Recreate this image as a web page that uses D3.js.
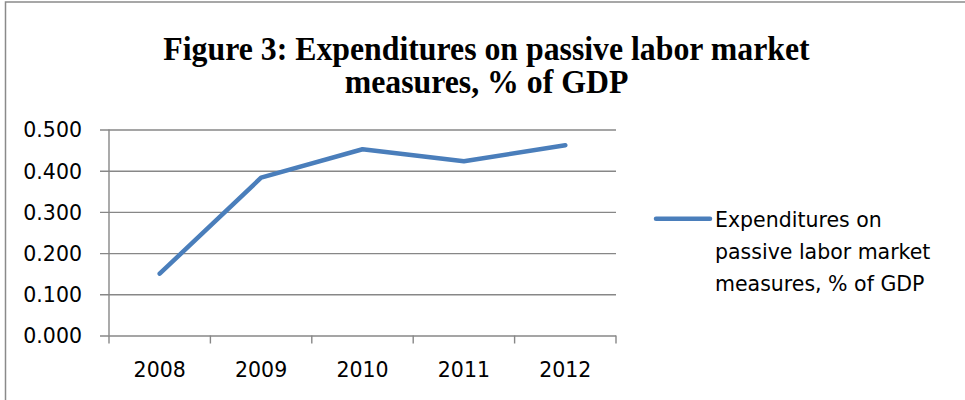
<!DOCTYPE html>
<html>
<head>
<meta charset="utf-8">
<script src="https://cdn.jsdelivr.net/npm/d3@7"></script>
<style>
  html, body { margin: 0; padding: 0; background: #fff; }
  svg { display: block; }
</style>
</head>
<body>
<svg id="chart" width="965" height="400"></svg>
<script>
const categories = ["2008", "2009", "2010", "2011", "2012"];
const values = [0.150, 0.383, 0.452, 0.423, 0.462];
const yTicks = [0, 0.1, 0.2, 0.3, 0.4, 0.5];
const titleLines = ["Figure 3: Expenditures on passive labor market", "measures, % of GDP"];
const legendLines = ["Expenditures on", "passive labor market", "measures, % of GDP"];

const svg = d3.select("#chart");
const gridColor = "#878787";
const lineColor = "#4A7EBB";
const labelFont = "'DejaVu Sans', sans-serif";

// outer border (top & left visible)
svg.append("rect")
  .attr("x", 5.5).attr("y", 2)
  .attr("width", 1000).attr("height", 450)
  .attr("fill", "none").attr("stroke", "#8a8a8a").attr("stroke-width", 1.5);

// title
titleLines.forEach((t, i) => {
  svg.append("g")
    .attr("transform", `translate(486.5,${59.5 + i * 33.5}) scale(1,1.08)`)
    .append("text")
    .attr("text-anchor", "middle")
    .attr("font-family", "'Liberation Serif', 'Times New Roman', serif")
    .attr("font-weight", "bold")
    .attr("font-size", 31.8)
    .attr("fill", "#000")
    .text(t);
});

const plotLeft = 109, plotRight = 616, plotTop = 129.5, plotBottom = 335.5;
const x = d3.scaleBand().domain(categories).range([plotLeft, plotRight]).padding(0);
const y = d3.scaleLinear().domain([0, 0.5]).range([plotBottom, plotTop]);

// gridlines + y tick marks
const grid = svg.append("g")
  .attr("transform", `translate(${plotRight},0)`)
  .call(d3.axisLeft(y).tickValues(yTicks).tickSize(plotRight - plotLeft + 9).tickFormat(""));
grid.select(".domain").remove();
grid.selectAll(".tick line").attr("stroke", gridColor).attr("stroke-width", 1.4);

// y axis line
svg.append("line")
  .attr("x1", plotLeft).attr("x2", plotLeft)
  .attr("y1", plotTop).attr("y2", plotBottom)
  .attr("stroke", gridColor).attr("stroke-width", 1.4);

// y labels
const yLab = svg.append("g")
  .attr("transform", `translate(${plotLeft},0)`)
  .call(d3.axisLeft(y).tickValues(yTicks).tickSize(0).tickPadding(27).tickFormat(d3.format(".3f")));
yLab.select(".domain").remove();
yLab.selectAll("text")
  .attr("font-family", labelFont).attr("font-size", 20.5).attr("fill", "#000")
  .attr("dy", "0.36em");

// x tick marks at category boundaries
const bounds = categories.map(c => x(c)).concat([x.range()[1]]);
svg.append("g").selectAll("line")
  .data(bounds)
  .join("line")
  .attr("x1", d => d).attr("x2", d => d)
  .attr("y1", plotBottom).attr("y2", plotBottom + 8)
  .attr("stroke", gridColor).attr("stroke-width", 1.4);

// x labels
const xLab = svg.append("g")
  .attr("transform", `translate(0,${plotBottom})`)
  .call(d3.axisBottom(x).tickSize(0).tickPadding(0));
xLab.select(".domain").remove();
xLab.selectAll("text")
  .attr("font-family", labelFont).attr("font-size", 20.5).attr("fill", "#000")
  .attr("y", 41.2).attr("dy", 0);

// data line
const line = d3.line()
  .x((d, i) => x(categories[i]) + x.bandwidth() / 2)
  .y(d => y(d));
svg.append("path")
  .datum(values)
  .attr("d", line)
  .attr("fill", "none")
  .attr("stroke", lineColor)
  .attr("stroke-width", 4.5)
  .attr("stroke-linejoin", "round")
  .attr("stroke-linecap", "round");

// legend
svg.append("line")
  .attr("x1", 656).attr("x2", 710)
  .attr("y1", 218.7).attr("y2", 218.7)
  .attr("stroke", lineColor).attr("stroke-width", 4.5)
  .attr("stroke-linecap", "round");
const lt = svg.append("text")
  .attr("font-family", labelFont).attr("font-size", 20.5).attr("fill", "#000");
legendLines.forEach((t, i) => {
  lt.append("tspan").attr("x", 715).attr("y", 227.3 + i * 31.6).text(t);
});
</script>
</body>
</html>
